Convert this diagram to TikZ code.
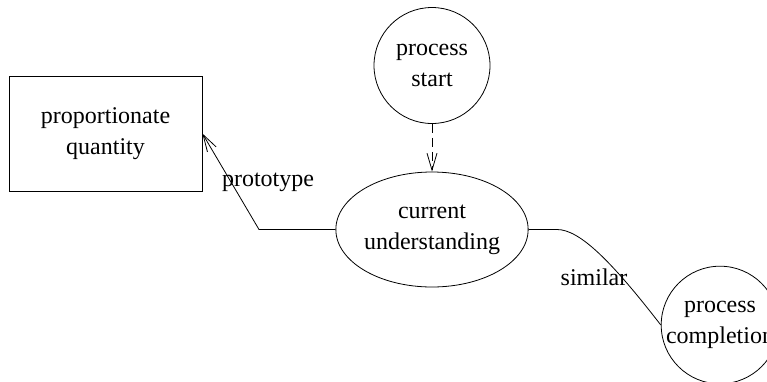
\documentclass[tikz,border=0pt]{standalone}
\usepackage{fontspec}
\setmainfont{Liberation Serif}
\usepackage{tikz}
\usetikzlibrary{arrows.meta,positioning,shapes.geometric,calc}

\begin{document}
\begin{tikzpicture}[
      x=1pt, y=-1pt,
      every node/.style={font=\fontsize{24}{31}\selectfont},
      state/.style={
        draw,
        circle,
        line width=0.8pt,
        align=center,
        inner sep=0pt,
        minimum size=116pt
      },
      focus/.style={
        draw,
        ellipse,
        line width=0.8pt,
        align=center,
        inner sep=0pt,
        minimum width=192pt,
        minimum height=115pt
      },
      concept/.style={
        draw,
        rectangle,
        line width=0.8pt,
        align=center,
        minimum width=193pt,
        minimum height=115pt
      },
      arr/.style={
        -{Straight Barb[length=17pt,width=10pt]},
        line width=0.8pt
      },
      link/.style={
        line width=0.8pt
      }
    ]

    \useasboundingbox (0,0) rectangle (767,381);
    \clip (0,0) rectangle (767,381);

    \node[concept] (pq) at (105.5,133.5)
      {proportionate\\quantity};

    \node[state] (ps) at (432,65.5)
      {process\\start};

    \node[focus] (cu) at (432,229.5)
      {current\\understanding};

    \node[state] (pc) at (720,325)
      {process\\completion};

    \coordinate (pbend) at (259,229.5);
    \coordinate (sbend) at (557,229.5);

    \draw[arr,dashed,dash pattern=on 9pt off 5pt] (ps) -- (cu);

    \draw[arr] (cu.west) -- (pbend) -- (pq.east);
    \node (lp) at (268,182) {prototype};

    \draw[link] (cu.east) -- (sbend)
      .. controls (580,229.5) and (612,262) .. (pc.west);
    \node (ls) at (594,277) {similar};

  \end{tikzpicture}
\end{document}
